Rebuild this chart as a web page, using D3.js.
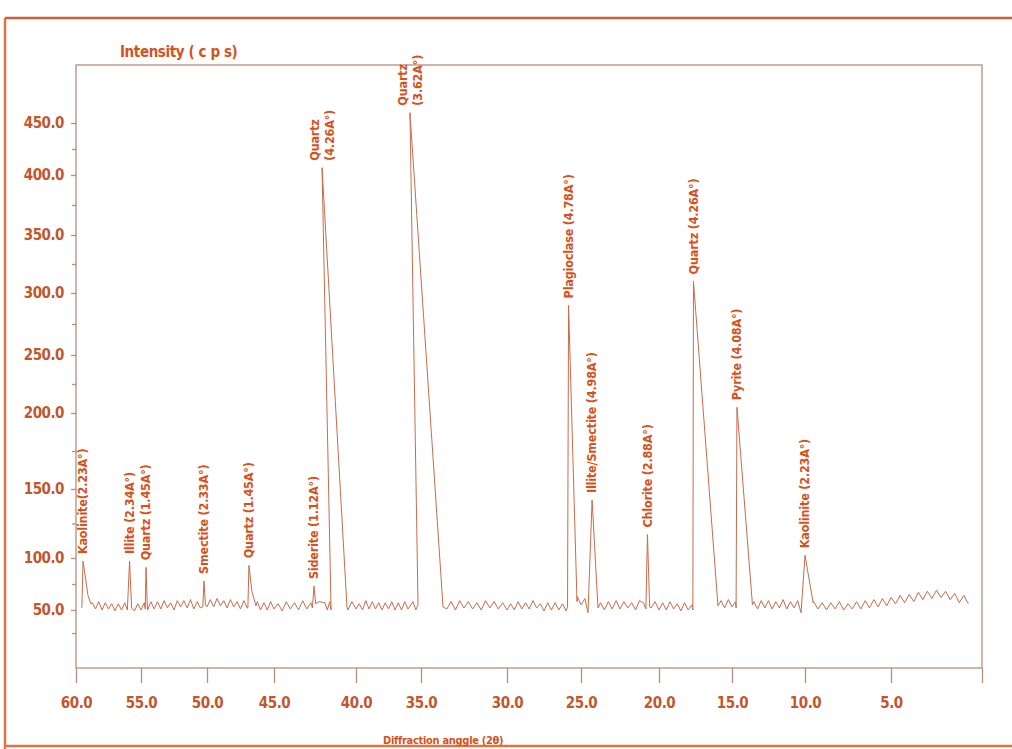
<!DOCTYPE html>
<html>
<head>
<meta charset="utf-8">
<script src="https://cdn.jsdelivr.net/npm/d3@7"></script>
<style>
  body { margin: 0; background: #fff; }
  text { font-family: "Liberation Sans Narrow", "DejaVu Sans Condensed", "Arial Narrow", sans-serif; font-weight: bold; }
</style>
</head>
<body>
<svg id="chart" width="1012" height="749"></svg>
<script>
// tick values
var angleTicks = [60, 55, 50, 45, 40, 35, 30, 25, 20, 15, 10, 5, 0];
var cpsTicks = [50, 100, 150, 200, 250, 300, 350, 400, 450];
var cpsMinor = [25, 75, 125, 175, 225, 275, 325, 375, 425];

// background counts, read every 0.25 deg starting at 58.75 (2theta going down)
var bgStart = 58.75, bgStep = 0.25;
var background = [
  57, 51, 58, 50,  57, 51, 56, 49,  56, 50, 57, 51,  54, 49, 56, 50,   // 58 .. 55
  57, 50, 58, 51,  58, 51, 59, 52,  57, 50, 59, 53,  59, 52, 60, 51,   // 54 .. 51
  58, 52, 60, 53,  60, 53, 61, 54,  59, 52, 60, 53,  58, 51, 59, 52,   // 50 .. 47
  57, 51, 58, 50,  57, 50, 58, 51,  56, 49, 58, 51,  57, 50, 59, 51,   // 46 .. 43
  57, 51, 58, 52,  56, 51, 57, 51,  57, 50, 58, 51,  56, 50, 59, 51,   // 42 .. 39
  58, 51, 57, 50,  57, 51, 58, 50,  57, 50, 58, 51,  56, 50, 57, 51,   // 38 .. 35
  56, 51, 58, 50,  57, 51, 58, 50,  59, 52, 58, 51,  57, 50, 59, 52,   // 34 .. 31
  58, 51, 57, 50,  56, 50, 58, 51,  57, 51, 59, 52,  56, 49, 57, 50,   // 30 .. 27
  57, 50, 56, 49,  56, 51, 63, 55,  61, 52, 55, 53,  57, 50, 58, 51,   // 26 .. 23
  59, 51, 58, 52,  57, 50, 59, 57,  62, 52, 58, 50,  57, 50, 58, 51,   // 22 .. 19
  56, 49, 57, 50,  55, 52, 52, 52,  52, 52, 52, 52,  59, 52, 60, 53,   // 18 .. 15
  58, 52, 52, 52,  52, 58, 51, 59,  52, 59, 51, 58,  52, 60, 51, 58,   // 14 .. 11
  52, 59, 52, 52,  52, 58, 51, 57,  50, 57, 51, 58,  50, 56, 51, 58,   // 10 .. 7
  51, 59, 52, 60,  53, 61, 54, 62,  56, 64, 57, 65,  58, 67, 60, 68,   // 6 .. 3
  61, 69, 62, 68,  60, 66, 57, 64,  56                                 // 2 .. 0.75
];

// peaks: label lines and the points of each peak as [2theta, cps]
var peaks = [
  { label: ["Kaolinite(2.23A°)"], pts: [[59.55, 52], [59.46, 97], [59.31, 84], [59.08, 64], [58.85, 56]] },
  { label: ["Illite (2.34A°)"], pts: [[56.05, 50], [55.88, 97], [55.72, 52]] },
  { label: ["Quartz (1.45A°)"], pts: [[54.68, 51], [54.62, 91], [54.52, 53]] },
  { label: ["Smectite (2.33A°)"], pts: [[50.32, 53], [50.23, 78], [50.12, 55]] },
  { label: ["Quartz (1.45A°)"], pts: [[46.95, 52], [46.87, 93], [46.65, 68], [46.35, 54]] },
  { label: ["Siderite (1.12A°)"], pts: [[42.66, 52], [42.56, 73], [42.46, 56]] },
  { label: ["Quartz", "(4.26A°)"], pts: [[41.9, 57], [41.75, 50], [41.6, 58], [41.52, 50], [42.07, 407], [40.55, 53]] },
  { label: ["Quartz", "(3.62A°)"], pts: [[35.62, 58], [35.4, 50], [35.23, 55], [35.85, 460], [33.72, 53]] },
  { label: ["Plagioclase (4.78A°)"], pts: [[25.91, 53], [25.84, 290], [25.27, 58]] },
  { label: ["Illite/Smectite (4.98A°)"], pts: [[24.55, 47], [24.29, 142], [23.91, 52]] },
  { label: ["Chlorite (2.88A°)"], pts: [[20.84, 51], [20.74, 117], [20.6, 53]] },
  { label: ["Quartz (4.26A°)"], pts: [[17.68, 50], [17.64, 310], [15.96, 54]] },
  { label: ["Pyrite (4.08A°)"], pts: [[14.72, 52], [14.66, 205], [13.6, 55]] },
  { label: ["Kaolinite (2.23A°)"], pts: [[10.27, 47], [10.0, 102], [9.53, 57]] }
];

var svg = d3.select("#chart");
var orange = "#d4531d", brown = "#c2562c", axisCol = "#b48f7e", lineCol = "#c66c4b";

// the original axes are not evenly spaced, so the scales are piecewise
var x = d3.scaleLinear()
    .domain(angleTicks)
    .range([76, 141, 207, 274, 356, 421, 507, 581, 659, 732, 805, 891, 982]);
var y = d3.scaleLinear()
    .domain([-13, 50, 100, 150, 200, 250, 300, 350, 400, 450, 506])
    .range([668, 610, 558, 489, 413, 355, 293, 235, 175, 123, 65]);

//outer frame of the scanned figure
var frame = svg.append("g").attr("fill", "none").attr("stroke", "#dc7444").attr("stroke-width", 2.5);
frame.append("line").attr("x1", 5).attr("y1", 18).attr("x2", 1012).attr("y2", 18).attr("stroke", "#c8603a");
frame.append("line").attr("x1", 5).attr("y1", 18).attr("x2", 5).attr("y2", 749);
frame.append("line").attr("x1", 5).attr("y1", 746).attr("x2", 1012).attr("y2", 746);

// plot box
svg.append("rect")
    .attr("x", x(60)).attr("y", y(506))
    .attr("width", x(0) - x(60)).attr("height", y(-13) - y(506))
    .attr("fill", "none").attr("stroke", axisCol).attr("stroke-width", 1.3);

// y axis
svg.append("g").attr("transform", "translate(" + x(60) + ",0)")
    .call(d3.axisLeft(y).tickValues(cpsTicks).tickSize(5).tickPadding(7).tickFormat(d3.format(".1f")));
svg.append("g").attr("transform", "translate(" + x(60) + ",0)")
    .call(d3.axisLeft(y).tickValues(cpsMinor).tickSize(4).tickFormat(""));

// x axis
svg.append("g").attr("transform", "translate(0," + y(-13) + ")")
    .call(d3.axisBottom(x).tickValues(angleTicks).tickSize(15).tickPadding(14)
        .tickFormat(function(d) { return d === 0 ? "" : d3.format(".1f")(d); }));

svg.selectAll(".domain").remove();
svg.selectAll(".tick line").attr("stroke", axisCol).attr("stroke-width", 1.3);
svg.selectAll(".tick text").attr("fill", brown).style("font-size", "15px").style("letter-spacing", "-0.5px");

// axis titles
svg.append("text").attr("x", 120).attr("y", 57)
    .attr("fill", orange).style("font-size", "15px").style("letter-spacing", "-0.4px")
    .text("Intensity ( c p s)");
svg.append("text").attr("x", 383).attr("y", 744)
    .attr("fill", orange).style("font-size", "11px").style("letter-spacing", "-0.3px")
    .text("Diffraction anggle (2θ)");

//merge background and peaks into one trace, in scan order
var windows = peaks.map(function(p) {
    return [d3.min(p.pts, function(d) { return d[0]; }), d3.max(p.pts, function(d) { return d[0]; })];
});
var trace = [], k = 0;
background.forEach(function(v, i) {
    var a = bgStart - i * bgStep;
    while (k < peaks.length && windows[k][1] >= a) {
        trace = trace.concat(peaks[k].pts);
        k++;
    }
    var inside = windows.some(function(w) { return a >= w[0] && a <= w[1]; });
    if (!inside) trace.push([a, v]);
});
for (; k < peaks.length; k++) trace = trace.concat(peaks[k].pts);

svg.append("path")
    .datum(trace)
    .attr("fill", "none")
    .attr("stroke", lineCol)
    .attr("stroke-width", 1)
    .attr("d", d3.line().x(function(d) { return x(d[0]); }).y(function(d) { return y(d[1]); }));

// peak labels, rotated, sitting above each apex
peaks.forEach(function(p) {
    var top = p.pts.reduce(function(a, b) { return b[1] > a[1] ? b : a; });
    var px = x(top[0]), py = y(top[1]) - 7;
    var n = p.label.length;
    p.label.forEach(function(line, j) {
        var cx = px + (j - (n - 1) / 2) * 15;
        svg.append("text")
            .attr("transform", "translate(" + cx + "," + py + ") rotate(-90)")
            .attr("dy", "0.35em")
            .attr("fill", orange)
            .style("font-size", "12.5px")
            .style("letter-spacing", "-0.2px")
            .text(line);
    });
});
</script>
</body>
</html>
